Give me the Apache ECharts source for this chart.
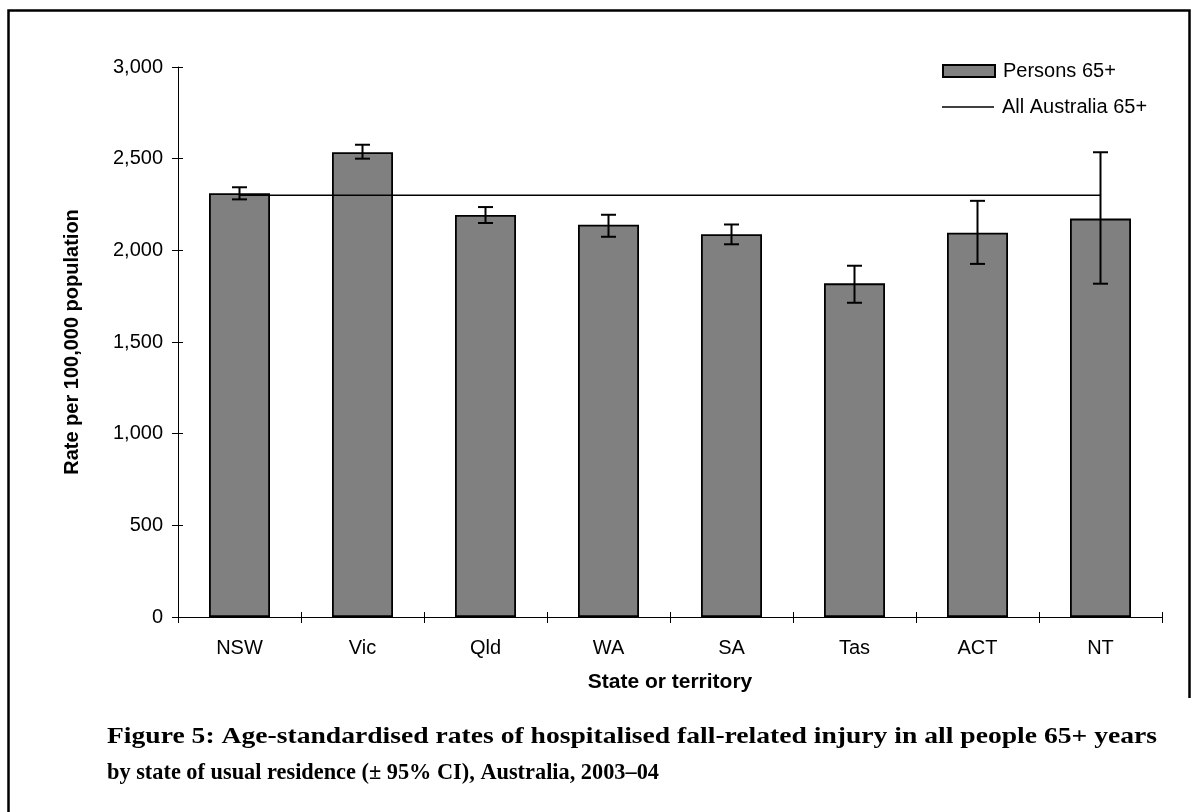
<!DOCTYPE html>
<html>
<head>
<meta charset="utf-8">
<script src="https://cdn.jsdelivr.net/npm/echarts@6/dist/echarts.min.js"></script>
<style>html,body{margin:0;padding:0;background:#fff;}#c{width:1198px;height:812px;}</style>
</head>
<body>
<div id="c"></div>
<script>
var categories = ['NSW', 'Vic', 'Qld', 'WA', 'SA', 'Tas', 'ACT', 'NT'];
var persons65 = [2311, 2535, 2193, 2140, 2088, 1820, 2096, 2173];
var ciLow = [2278, 2500, 2149, 2074, 2033, 1714, 1926, 1818];
var ciHigh = [2344, 2576, 2236, 2194, 2141, 1916, 2270, 2535];
var allAustralia = [2300, 2300, 2300, 2300, 2300, 2300, 2300, 2300];
var yTicks = [0, 500, 1000, 1500, 2000, 2500, 3000];
var captionLines = [
  'Figure 5: Age-standardised rates of hospitalised fall-related injury in all people 65+ years',
  'by state of usual residence (\u00b1 95% CI), Australia, 2003\u201304'
];

var errData = categories.map(function (c, i) { return [i, ciLow[i], ciHigh[i]]; });
var chart = echarts.init(document.getElementById('c'), null, { renderer: 'canvas' });
var sans = 'Liberation Sans, Arial, sans-serif';

// caption fitting
var capFont = 'bold 23px "Liberation Serif", "Times New Roman", serif';
var cv = document.createElement('canvas').getContext('2d');
cv.font = capFont;
var capTargets = [1050, 552];
var capY = [737, 773];
var capGraphics = captionLines.map(function (t, i) {
  var w = cv.measureText(t).width;
  return { type: 'text', x: 107, y: capY[i], scaleX: capTargets[i] / w, silent: true,
    style: { text: t, font: capFont, fill: '#000', textAlign: 'left', textVerticalAlign: 'middle' } };
});

chart.setOption({
  animation: false,
  backgroundColor: '#fff',
  grid: { left: 178, top: 67, right: 36, bottom: 195 },
  legend: [
    { data: [{ name: 'Persons 65+', icon: 'rect' }], left: 937, top: 56, itemWidth: 52, itemHeight: 12,
      textStyle: { fontFamily: sans, fontSize: 20, color: '#000', padding: [0, 0, 0, 3] } },
    { data: [{ name: 'All Australia 65+', icon: 'rect', itemStyle: { color: '#000', borderWidth: 0 } }],
      left: 937, top: 92, itemWidth: 52, itemHeight: 1.5,
      textStyle: { fontFamily: sans, fontSize: 20, color: '#000', padding: [0, 0, 0, 3] } }
  ],
  xAxis: [
    { type: 'category', data: categories, boundaryGap: true,
      axisLine: { lineStyle: { color: '#000', width: 1 } },
      axisTick: { show: true, length: 6, alignWithLabel: false, lineStyle: { color: '#000' } },
      axisLabel: { fontFamily: sans, fontSize: 20, color: '#000', margin: 21 },
      name: 'State or territory', nameLocation: 'middle', nameGap: 55,
      nameTextStyle: { fontFamily: sans, fontSize: 21, fontWeight: 'bold', color: '#000' } },
    { type: 'category', data: categories, boundaryGap: true, position: 'bottom',
      axisLine: { show: false },
      axisTick: { show: true, inside: true, length: 5, lineStyle: { color: '#000' } },
      axisLabel: { show: false } }
  ],
  yAxis: [
    { type: 'value', min: 0, max: 3000, interval: 500,
      splitLine: { show: false },
      axisLine: { show: true, lineStyle: { color: '#000', width: 1 } },
      axisTick: { show: true, length: 6, lineStyle: { color: '#000' } },
      axisLabel: { fontFamily: sans, fontSize: 20, color: '#000', margin: 15,
        formatter: function (v) { return yTicks.indexOf(v) >= 0 ? v.toLocaleString('en-US') : ''; } },
      name: 'Rate per 100,000 population', nameLocation: 'middle', nameGap: 96, nameRotate: 90,
      nameTextStyle: { fontFamily: sans, fontSize: 20, fontWeight: 'bold', color: '#000' } },
    { type: 'value', min: 0, max: 3000, interval: 500, position: 'left',
      splitLine: { show: false }, axisLine: { show: false },
      axisTick: { show: true, inside: true, length: 5, lineStyle: { color: '#000' } },
      axisLabel: { show: false } }
  ],
  series: [
    { name: 'Persons 65+', type: 'bar', data: persons65, barWidth: 61,
      itemStyle: { color: '#808080', borderColor: '#000', borderWidth: 1.8 } },
    { name: 'All Australia 65+', type: 'line', data: allAustralia, symbol: 'none',
      lineStyle: { color: '#000', width: 1.5 }, itemStyle: { color: '#000' } },
    { name: 'CI', type: 'custom', data: errData, z: 10,
      renderItem: function (params, api) {
        var x = api.value(0);
        var lo = api.coord([x, api.value(1)]);
        var hi = api.coord([x, api.value(2)]);
        var hw = 7.5;
        var st = { stroke: '#000', lineWidth: 2 };
        return { type: 'group', children: [
          { type: 'line', shape: { x1: hi[0], y1: hi[1], x2: lo[0], y2: lo[1] }, style: st },
          { type: 'line', shape: { x1: hi[0] - hw, y1: hi[1], x2: hi[0] + hw, y2: hi[1] }, style: st },
          { type: 'line', shape: { x1: lo[0] - hw, y1: lo[1], x2: lo[0] + hw, y2: lo[1] }, style: st }
        ] };
      } }
  ],
  graphic: [
    { type: 'polyline', shape: { points: [[8.5, 812], [8.5, 10.5], [1189.5, 10.5], [1189.5, 698]] },
      style: { stroke: '#000', lineWidth: 2.5, fill: null }, silent: true }
  ].concat(capGraphics)
});
</script>
</body>
</html>
